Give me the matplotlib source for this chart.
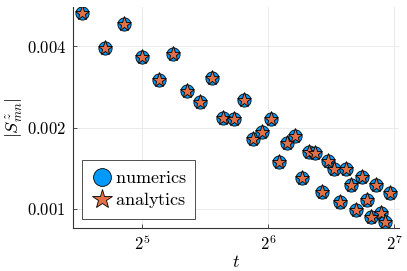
import numpy as np
import matplotlib
matplotlib.use("Agg")
import matplotlib.pyplot as plt
from matplotlib.ticker import FixedLocator, FixedFormatter, NullLocator

plt.rcParams["mathtext.fontset"] = "cm"
plt.rcParams["font.family"] = "serif"
plt.rcParams["font.serif"] = ["DejaVu Serif"]

t = np.arange(23, 126, 3)
S = [0.00530, 0.00393, 0.00482, 0.00365, 0.00301, 0.00373, 0.00274, 0.00248,
     0.00304, 0.00217, 0.00216, 0.00253, 0.00182, 0.00192, 0.00215, 0.00149,
     0.00175, 0.00186, 0.00130, 0.00162, 0.00161, 0.00116, 0.00151, 0.00140,
     0.00106, 0.00141, 0.00123, 0.000992, 0.00131, 0.00108, 0.000933, 0.00123,
     0.000964, 0.000897, 0.00115]

xticks = [32, 64, 128]
xticklabels = [r"$2^{5}$", r"$2^{6}$", r"$2^{7}$"]
yticks = [0.001, 0.002, 0.004]
yticklabels = [r"$0.001$", r"$0.002$", r"$0.004$"]

fig = plt.figure(figsize=(4.07, 2.71), dpi=100)
ax = fig.add_axes([73 / 407, 1 - 228 / 271, 326 / 407, 221 / 271])

ax.plot(t, S, linestyle="none", marker="o", ms=9.5, mfc="#009AFA",
        mec="black", mew=0.6, label=r"$\mathrm{numerics}$")
ax.plot(t, S, linestyle="none", marker="*", ms=11, mfc="#E36F47",
        mec="black", mew=0.6, label=r"$\mathrm{analytics}$")

ax.set_xscale("log")
ax.set_yscale("log")

lx = np.log2([min(t), max(t)])
ly = np.log2([min(S), max(S)])
mx = 0.03 * (lx[1] - lx[0])
my = 0.03 * (ly[1] - ly[0])
ax.set_xlim(2 ** (lx[0] - mx), 2 ** (lx[1] + mx))
ax.set_ylim(2 ** (ly[0] - my), 2 ** (ly[1] + my))

ax.xaxis.set_major_locator(FixedLocator(xticks))
ax.xaxis.set_major_formatter(FixedFormatter(xticklabels))
ax.xaxis.set_minor_locator(NullLocator())
ax.yaxis.set_major_locator(FixedLocator(yticks))
ax.yaxis.set_major_formatter(FixedFormatter(yticklabels))
ax.yaxis.set_minor_locator(NullLocator())

ax.grid(True, color="#e6e6e6", linewidth=0.6)
ax.set_axisbelow(True)
for s in ["top", "right"]:
    ax.spines[s].set_visible(False)
for s in ["left", "bottom"]:
    ax.spines[s].set_color("#333333")
    ax.spines[s].set_linewidth(0.8)
ax.tick_params(direction="in", length=3, width=0.6, color="#333333",
               labelsize=12, pad=5)

ax.set_xlabel(r"$t$", fontsize=13, labelpad=-1)
ax.set_ylabel(r"$|S^z_{mn}|$", fontsize=13, labelpad=1)

leg = ax.legend(loc="lower left", fontsize=13, frameon=True, fancybox=False,
                edgecolor="#333333", framealpha=1, handletextpad=0.1,
                borderpad=0.5, labelspacing=0.15, handlelength=1.2,
                borderaxespad=0.5, markerscale=1.35)
leg.get_frame().set_linewidth(0.6)

fig.savefig("out.png", dpi=100)
